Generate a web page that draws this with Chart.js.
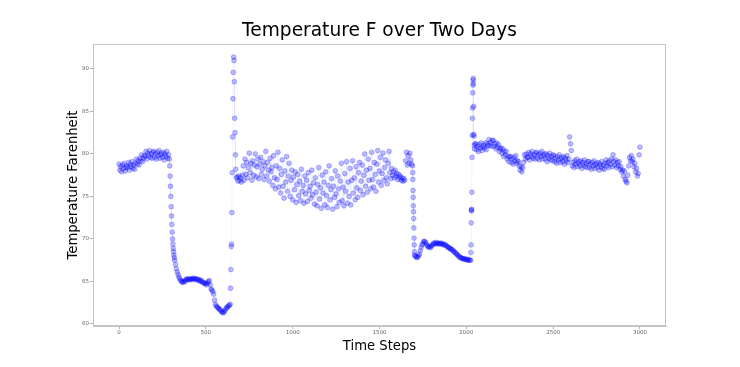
<!DOCTYPE html>
<html>
<head>
<meta charset="utf-8">
<script src="https://cdn.jsdelivr.net/npm/chart.js@4/dist/chart.umd.min.js"></script>
<style>
  html, body { margin: 0; padding: 0; background: #ffffff; }
  canvas { display: block; }
</style>
</head>
<body>
<canvas id="tempChart" width="740" height="367"></canvas>
<script>
// time step of each reading (denser where the temperature jumps)
var timeSteps = [
    // warm start
    0, 5, 10, 15, 20, 25, 30, 35, 40, 45,
    50, 55, 60, 65, 70, 75, 80, 85, 90, 95,
    100, 105, 110, 115, 120, 125, 130, 135, 140, 145,
    150, 155, 160, 165, 170, 175, 180, 185, 190, 195,
    200, 205, 210, 215, 220, 225, 230, 235, 240, 245,
    250, 255, 260, 265, 270, 275, 280, 285, 290,
    // first drop
    292, 294, 296, 298, 300, 302, 304, 306, 308, 310, 312, 314, 316, 318, 320,
    325, 330, 335, 340, 345, 350, 355,
    // first cold stretch
    360, 365, 370, 375, 380, 385, 390, 395, 400, 405,
    410, 415, 420, 425, 430, 435, 440, 445, 450, 455,
    460, 465, 470, 475, 480, 485, 490, 495, 500, 505,
    510, 515, 520, 525, 530, 535, 540, 545, 550, 555,
    560, 565, 570, 575, 580, 585, 590, 595, 600, 605,
    610, 615, 620, 625, 630, 635, 640,
    // first spike
    642, 644, 646, 648, 650, 652, 654, 656, 658, 660, 662, 664, 666, 668, 670, 672, 675,
    // noisy middle
    680, 685, 690, 695, 700, 705, 710, 715, 720, 725,
    730, 735, 740, 745, 750, 755, 760, 765, 770, 775,
    780, 785, 790, 795, 800, 805, 810, 815, 820, 825,
    830, 835, 840, 845, 850, 855, 860, 865, 870, 875,
    880, 885, 890, 895, 900, 905, 910, 915, 920, 925,
    930, 935, 940, 945, 950, 955, 960, 965, 970, 975,
    980, 985, 990, 995, 1000, 1005, 1010, 1015, 1020, 1025,
    1030, 1035, 1040, 1045, 1050, 1055, 1060, 1065, 1070, 1075,
    1080, 1085, 1090, 1095, 1100, 1105, 1110, 1115, 1120, 1125,
    1130, 1135, 1140, 1145, 1150, 1155, 1160, 1165, 1170, 1175,
    1180, 1185, 1190, 1195, 1200, 1205, 1210, 1215, 1220, 1225,
    1230, 1235, 1240, 1245, 1250, 1255, 1260, 1265, 1270, 1275,
    1280, 1285, 1290, 1295, 1300, 1305, 1310, 1315, 1320, 1325,
    1330, 1335, 1340, 1345, 1350, 1355, 1360, 1365, 1370, 1375,
    1380, 1385, 1390, 1395, 1400, 1405, 1410, 1415, 1420, 1425,
    1430, 1435, 1440, 1445, 1450, 1455, 1460, 1465, 1470, 1475,
    1480, 1485, 1490, 1495, 1500, 1505, 1510, 1515, 1520, 1525,
    1530, 1535, 1540, 1545, 1550, 1555, 1560, 1565, 1570, 1575,
    1580, 1585, 1590, 1595, 1600, 1605, 1610, 1615, 1620, 1625,
    1630, 1635, 1640, 1645, 1650, 1655, 1660, 1665, 1670, 1675,
    1680, 1685, 1690,
    // second drop
    1691, 1692, 1693, 1694, 1695, 1696, 1697, 1698, 1699, 1700, 1701, 1702,
    // second cold stretch
    1705, 1710, 1715, 1720, 1725, 1730, 1735, 1740, 1745, 1750,
    1755, 1760, 1765, 1770, 1775, 1780, 1785, 1790, 1795, 1800,
    1805, 1810, 1815, 1820, 1825, 1830, 1835, 1840, 1845, 1850,
    1855, 1860, 1865, 1870, 1875, 1880, 1885, 1890, 1895, 1900,
    1905, 1910, 1915, 1920, 1925, 1930, 1935, 1940, 1945, 1950,
    1955, 1960, 1965, 1970, 1975, 1980, 1985, 1990, 1995, 2000,
    2005, 2010, 2015, 2020, 2025,
    // second spike
    2026, 2027, 2028, 2029, 2030, 2031, 2032, 2033, 2034, 2035,
    2036, 2037, 2038, 2039, 2040, 2041, 2042, 2043, 2044, 2046, 2048, 2050,
    // warm end
    2055, 2060, 2065, 2070, 2075, 2080, 2085, 2090, 2095, 2100,
    2105, 2110, 2115, 2120, 2125, 2130, 2135, 2140, 2145, 2150,
    2155, 2160, 2165, 2170, 2175, 2180, 2185, 2190, 2195, 2200,
    2205, 2210, 2215, 2220, 2225, 2230, 2235, 2240, 2245, 2250,
    2255, 2260, 2265, 2270, 2275, 2280, 2285, 2290, 2295, 2300,
    2305, 2310, 2315, 2320, 2325, 2330, 2335, 2340, 2345, 2350,
    2355, 2360, 2365, 2370, 2375, 2380, 2385, 2390, 2395, 2400,
    2405, 2410, 2415, 2420, 2425, 2430, 2435, 2440, 2445, 2450,
    2455, 2460, 2465, 2470, 2475, 2480, 2485, 2490, 2495, 2500,
    2505, 2510, 2515, 2520, 2525, 2530, 2535, 2540, 2545, 2550,
    2555, 2560, 2565, 2570, 2575, 2580, 2585, 2590, 2595, 2600,
    2605, 2610, 2615, 2620, 2625, 2630, 2635, 2640, 2645, 2650,
    2655, 2660, 2665, 2670, 2675, 2680, 2685, 2690, 2695, 2700,
    2705, 2710, 2715, 2720, 2725, 2730, 2735, 2740, 2745, 2750,
    2755, 2760, 2765, 2770, 2775, 2780, 2785, 2790, 2795, 2800,
    2805, 2810, 2815, 2820, 2825, 2830, 2835, 2840, 2845, 2850,
    2855, 2860, 2865, 2870, 2875, 2880, 2885, 2890, 2895, 2900,
    2905, 2910, 2915, 2920, 2925, 2930, 2935, 2940, 2945, 2950,
    2955, 2960, 2965, 2970, 2975, 2980, 2985, 2990, 2995, 3000
];

// temperature in F
var tempsF = [
    // warm start
    78.8, 78.1, 78.5, 77.9, 78.7, 78.3, 78.9, 78.0, 78.4, 78.6,
    78.4, 79.0, 78.1, 78.8, 78.5, 79.1, 78.3, 78.7, 78.2, 78.9,
    79.4, 78.8, 79.2, 78.7, 79.5, 79.2, 79.9, 79.1, 79.5, 79.8,
    79.7, 80.3, 79.4, 80.1, 79.8, 80.4, 79.6, 80.0, 79.5, 80.2,
    80.3, 79.6, 80.0, 79.4, 80.2, 79.8, 80.4, 79.5, 79.9, 80.1,
    79.6, 80.2, 79.3, 80.0, 79.7, 80.3, 79.5, 79.9, 79.4,
    // first drop
    78.6, 77.4, 76.2, 75.0, 73.8, 72.7, 71.7, 70.8, 70.0, 69.4, 68.9, 68.5, 68.1, 67.8, 67.5,
    67.0, 66.5, 66.1, 65.8, 65.5, 65.3, 65.1,
    // first cold stretch
    65.0, 64.9, 64.9, 65.1, 65.0, 65.2, 65.3, 65.2, 65.3, 65.2,
    65.3, 65.3, 65.2, 65.3, 65.4, 65.3, 65.3, 65.2, 65.3, 65.2,
    65.1, 65.2, 65.0, 65.1, 64.9, 64.9, 64.8, 64.7, 64.8, 64.6,
    64.8, 65.0, 65.1, 64.6, 64.1, 64.0, 63.8, 63.5, 62.8, 62.3,
    62.1, 62.0, 61.9, 61.8, 61.7, 61.6, 61.4, 61.4, 61.3, 61.4,
    61.6, 61.8, 61.9, 62.0, 62.1, 62.2, 62.3,
    // first spike
    64.2, 66.4, 69.1, 69.4, 73.1, 77.8, 82.0, 86.5, 89.6, 91.4, 91.0, 88.5, 84.2, 82.5, 79.9, 78.2, 77.2,
    // noisy middle
    77.3, 76.8, 77.4, 76.9, 77.2, 76.7, 77.5, 78.6, 76.9, 79.4,
    77.6, 79.0, 77.2, 78.4, 80.1, 77.8, 78.9, 76.9, 79.2, 77.5,
    78.7, 80.0, 77.3, 78.5, 79.4, 77.1, 78.8, 79.6, 77.6, 78.2,
    79.1, 77.0, 78.6, 80.3, 77.4, 79.0, 78.1, 76.8, 79.5, 77.9,
    78.4, 76.3, 79.8, 77.2, 75.9, 78.6, 77.0, 80.2, 76.1, 78.3,
    75.4, 77.6, 79.3, 76.2, 74.8, 78.0, 76.7, 79.7, 75.6, 77.4,
    78.9, 75.0, 76.9, 78.1, 74.6, 77.3, 75.8, 77.9, 74.3, 76.4,
    77.6, 75.1, 76.8, 74.5, 78.2, 75.6, 76.3, 74.2, 77.4, 75.3,
    76.9, 74.4, 77.8, 75.7, 76.2, 74.8, 78.1, 75.2, 76.6, 74.1,
    77.2, 75.5, 73.9, 76.4, 78.4, 74.7, 76.0, 73.6, 77.5, 75.4,
    76.7, 74.0, 77.9, 75.1, 73.7, 76.3, 78.6, 74.6, 75.8, 77.1,
    73.5, 76.2, 74.9, 78.0, 75.3, 73.8, 77.4, 75.9, 74.3, 76.8,
    78.9, 74.5, 76.1, 73.9, 77.7, 75.6, 79.1, 74.2, 76.7, 75.0,
    78.3, 74.0, 76.9, 79.2, 75.4, 77.2, 74.6, 78.5, 76.0, 74.9,
    77.8, 79.0, 75.7, 76.8, 78.7, 75.2, 77.5, 80.0, 76.2, 78.1,
    75.5, 79.4, 76.9, 78.3, 75.9, 80.2, 77.0, 76.1, 79.0, 77.6,
    75.6, 78.8, 80.4, 76.7, 78.0, 79.6, 76.3, 77.7, 80.1, 76.9,
    78.4, 79.3, 77.2, 76.5, 78.9, 80.3, 77.8, 77.1, 78.3, 77.5,
    77.9, 77.2, 78.1, 77.4, 77.7, 77.0, 77.6, 77.2, 77.4, 76.9,
    77.2, 76.8, 77.1, 76.9, 79.2, 80.2, 78.7, 79.8, 78.9, 80.1,
    79.3, 78.8, 78.6,
    // second drop
    77.8, 77.0, 75.7, 74.9, 73.9, 73.2, 72.4, 71.3, 70.1, 69.3, 68.5, 68.1,
    // second cold stretch
    68.0, 67.9, 67.8, 67.9, 68.0, 68.2, 68.6, 69.0, 69.3, 69.5,
    69.7, 69.7, 69.6, 69.4, 69.2, 69.1, 69.0, 69.1, 69.0, 69.2,
    69.3, 69.5, 69.4, 69.5, 69.6, 69.4, 69.5, 69.5, 69.4, 69.5,
    69.4, 69.5, 69.3, 69.4, 69.3, 69.3, 69.2, 69.1, 69.0, 69.0,
    68.9, 68.8, 68.8, 68.7, 68.6, 68.5, 68.4, 68.3, 68.2, 68.1,
    68.0, 67.9, 67.8, 67.8, 67.7, 67.7, 67.6, 67.7, 67.6, 67.6,
    67.5, 67.6, 67.5, 67.5, 67.5,
    // second spike
    68.4, 69.3, 71.9, 73.4, 73.3, 73.5, 75.5, 79.6, 82.2, 84.2,
    85.4, 87.2, 88.1, 88.7, 88.9, 88.3, 85.6, 82.3, 82.1, 81.0, 80.6, 81.2,
    // warm end
    81.2, 80.5, 80.9, 80.3, 81.1, 80.7, 81.3, 80.4, 80.8, 81.0,
    80.7, 81.3, 80.5, 81.2, 81.0, 81.7, 81.0, 81.4, 80.9, 81.6,
    81.6, 80.9, 81.2, 80.6, 81.3, 80.8, 81.1, 80.3, 80.6, 80.7,
    80.1, 80.6, 79.7, 80.3, 79.9, 80.3, 79.4, 79.7, 79.1, 79.7,
    79.7, 79.0, 79.4, 78.8, 79.6, 79.2, 79.8, 78.9, 79.2, 79.1,
    78.6, 78.1, 78.5, 77.9, 78.4, 79.0, 79.9, 79.4, 80.0, 79.6,
    79.6, 80.2, 79.3, 80.0, 79.7, 80.3, 79.5, 79.9, 79.4, 80.1,
    80.2, 79.5, 79.9, 79.3, 80.1, 79.7, 80.3, 79.4, 79.8, 80.0,
    79.4, 80.0, 79.1, 79.8, 79.5, 80.1, 79.3, 79.7, 79.2, 79.9,
    79.8, 79.1, 79.5, 78.9, 79.7, 79.3, 79.9, 79.0, 79.4, 79.6,
    79.1, 79.7, 78.8, 79.5, 79.2, 79.8, 79.0, 79.4, 82.0, 81.2,
    80.4, 78.6, 79.0, 78.4, 79.2, 78.8, 79.4, 78.5, 78.9, 79.1,
    78.6, 79.2, 78.3, 79.0, 78.7, 79.3, 78.5, 78.9, 78.4, 79.1,
    79.1, 78.4, 78.8, 78.2, 79.0, 78.6, 79.2, 78.3, 78.7, 78.9,
    78.4, 79.0, 78.1, 78.8, 78.5, 79.1, 78.3, 78.7, 78.2, 78.9,
    79.3, 78.6, 79.0, 78.4, 79.2, 78.8, 79.4, 78.5, 79.9, 79.1,
    78.7, 79.3, 78.4, 79.0, 78.6, 79.1, 78.2, 78.5, 77.9, 78.1,
    77.4, 78.0, 77.0, 76.8, 76.6, 77.5, 78.6, 79.6, 79.2, 79.8,
    79.1, 79.4, 78.5, 78.9, 77.9, 78.3, 77.4, 77.7, 79.9, 80.8
];

var xTicks = [0, 500, 1000, 1500, 2000, 2500, 3000];
var yTicks = [60, 65, 70, 75, 80, 85, 90];

var chartTitle = 'Temperature F over Two Days';
var xTitle = 'Time Steps';
var yTitle = 'Temperature Farenheit';

if (timeSteps.length !== tempsF.length) {
    console.error('length mismatch', timeSteps.length, tempsF.length);
}

var readings = timeSteps.map(function (t, i) {
    return { x: t, y: tempsF[i] };
});

// light grey frame round the plot area, like the matplotlib axes box
var plotFrame = {
    id: 'plotFrame',
    afterDraw: function (chart) {
        var a = chart.chartArea;
        var ctx = chart.ctx;
        ctx.save();
        ctx.strokeStyle = '#c4c4c4';
        ctx.lineWidth = 1;
        ctx.strokeRect(Math.round(a.left) + 0.5, Math.round(a.top) + 0.5,
            Math.round(a.right - a.left) - 1, Math.round(a.bottom - a.top) - 1);
        ctx.restore();
    }
};

function plainTick(value) {
    return String(value);
}

function drawTempChart() {
    var ctxTemp = document.getElementById('tempChart');
    var tempChart = new Chart(ctxTemp, {
        type: 'scatter',
        data: {
            datasets: [{
                label: 'Temperature',
                data: readings,
                showLine: true,
                borderColor: 'rgba(0, 0, 255, 0.05)',
                borderWidth: 1,
                pointRadius: 2.4,
                pointBorderWidth: 0.8,
                pointBackgroundColor: 'rgba(0, 0, 255, 0.26)',
                pointBorderColor: 'rgba(0, 0, 255, 0.32)'
            }]
        },
        options: {
            responsive: false,
            animation: false,
            devicePixelRatio: 1,
            layout: { padding: { left: 0, right: 74, top: 0, bottom: 0 } },
            plugins: {
                legend: { display: false },
                tooltip: { enabled: false },
                title: {
                    display: true,
                    text: chartTitle,
                    fullSize: false,
                    color: '#000000',
                    font: { family: 'DejaVu Sans', size: 18.6, weight: 'normal', lineHeight: 1 },
                    padding: { top: 22, bottom: 3.4 }
                }
            },
            scales: {
                x: {
                    type: 'linear',
                    min: -150,
                    max: 3150,
                    afterBuildTicks: function (scale) {
                        scale.ticks = xTicks.map(function (v) { return { value: v }; });
                    },
                    afterFit: function (scale) { scale.height = 41; },
                    grid: { display: true, drawOnChartArea: false, tickLength: 3, color: '#b0b0b0' },
                    border: { display: true, color: '#c4c4c4' },
                    ticks: {
                        autoSkip: false,
                        maxRotation: 0,
                        padding: 0,
                        color: '#666666',
                        font: { family: 'DejaVu Sans', size: 5.5 },
                        callback: plainTick
                    },
                    title: {
                        display: true,
                        text: xTitle,
                        color: '#000000',
                        font: { family: 'DejaVu Sans', size: 13.2 },
                        padding: { top: 0, bottom: 13 }
                    }
                },
                y: {
                    type: 'linear',
                    min: 59.76,
                    max: 92.94,
                    afterBuildTicks: function (scale) {
                        scale.ticks = yTicks.map(function (v) { return { value: v }; });
                    },
                    afterFit: function (scale) { scale.width = 93; },
                    grid: { display: true, drawOnChartArea: false, tickLength: 3, color: '#b0b0b0' },
                    border: { display: true, color: '#c4c4c4' },
                    ticks: {
                        padding: 1,
                        color: '#666666',
                        font: { family: 'DejaVu Sans', size: 5.5 },
                        callback: plainTick
                    },
                    title: {
                        display: true,
                        text: yTitle,
                        color: '#000000',
                        font: { family: 'DejaVu Sans', size: 13.2 },
                        padding: { top: 65.4, bottom: 0 }
                    }
                }
            }
        },
        plugins: [plotFrame]
    });
}

drawTempChart();
</script>
</body>
</html>
